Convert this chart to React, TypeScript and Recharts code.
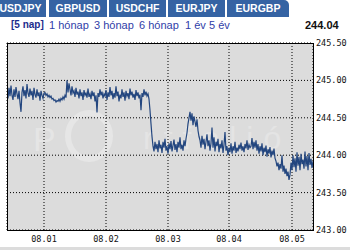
import { CartesianGrid, Line, LineChart, XAxis, YAxis } from "recharts";

// one quote per plot pixel, 5 trading days
const prices = [
  // 07.31 evening
  244.85, 244.76, 244.9, 244.79, 244.93, 244.8, 244.74, 244.88, 244.78, 244.91,
  244.82, 244.75, 244.86, 244.7, 244.58, 244.84, 244.92, 244.79, 244.87, 244.76,
  244.95, 244.83, 244.78, 244.89, 244.8, 244.86, 244.74, 244.9, 244.81, 244.77,
  244.88, 244.79, 244.84, 244.73, 244.86, 244.8, 244.76, 244.83,
  // 08.01
  244.84, 244.8, 244.82, 244.78, 244.8, 244.77, 244.79, 244.75, 244.76, 244.73,
  244.74, 244.71, 244.73, 244.72, 244.75, 244.72, 244.76, 244.74, 244.78, 244.75,
  244.8, 244.77,
  245.0, 244.84, 244.96,
  244.88, 244.8, 244.92, 244.83, 244.86, 244.78, 244.9, 244.81, 244.85, 244.76,
  244.88, 244.79, 244.84, 244.74, 244.87, 244.8, 244.83, 244.77, 244.89, 244.78,
  244.82, 244.75, 244.86, 244.79, 244.84, 244.72, 244.8, 244.57, 244.83, 244.78,
  244.88, 244.8, 244.85, 244.76, 244.82, 244.79, 244.87, 244.74, 244.84, 244.78,
  244.91, 244.8, 244.86, 244.75, 244.83, 244.77, 244.92, 244.79, 244.85, 244.72,
  244.81, 244.76, 244.88, 244.78, 244.84, 244.73, 244.86, 244.79, 244.83, 244.75,
  244.89, 244.8, 244.85, 244.77, 244.82, 244.74, 244.87, 244.79, 244.84, 244.76,
  244.81, 244.6, 244.83, 244.78, 244.88, 244.8, 244.85, 244.79, 244.82,
  // drop on 08.02 evening
  244.75, 244.6, 244.42, 244.25, 244.12, 244.05, 244.18, 244.08,
  244.15, 244.04, 244.2, 244.09, 244.14, 244.03, 244.18, 244.1, 244.22, 244.06,
  244.12, 244.02, 244.16, 244.08, 244.19, 244.05, 244.13, 244.21, 244.07, 244.15,
  244.04, 244.18, 244.1, 244.24, 244.08, 244.14, 244.06, 244.2, 244.12, 244.22,
  244.3, 244.42, 244.5, 244.58, 244.46, 244.56, 244.4, 244.52, 244.45, 244.38,
  244.48, 244.33, 244.25,
  244.2, 244.1, 244.26, 244.14, 244.22, 244.08, 244.18, 244.28, 244.12, 244.2,
  244.06, 244.16, 244.37, 244.1, 244.24, 244.05, 244.18, 244.12, 244.22, 244.04,
  244.15, 244.09, 244.2, 244.03, 244.14, 244.31, 244.06, 244.12, 244.0, 244.1,
  244.04, 244.16, 244.02, 244.12, 244.06, 244.18, 244.03, 244.1, 244.05, 244.14,
  244.08, 244.17, 244.06, 244.12, 244.04, 244.15, 244.09, 244.2, 244.07, 244.14,
  244.1,
  244.12, 244.23, 244.08, 244.18, 244.1, 244.2, 244.06, 244.15, 244.02, 244.12,
  244.05, 244.16, 244.0, 244.1, 244.04, 244.13, 243.98, 244.08, 244.02, 244.11,
  243.97, 244.06, 244.0, 244.09, 243.96,
  243.92, 243.85, 243.9, 243.8, 243.88, 243.82, 244.0, 243.78, 243.86, 243.75,
  243.82, 243.72, 243.78, 243.67, 243.74,
  243.9, 243.8, 244.0, 243.84, 243.96, 243.78, 244.04, 243.86, 243.98, 243.8,
  244.02, 243.88, 243.94, 243.82, 244.05, 243.85, 243.99, 243.8, 244.03, 243.87,
  243.95, 243.83, 243.92,
];

const dayTicks = [37, 99, 161, 222, 285];
const dayLabels = ["08.01", "08.02", "08.03", "08.04", "08.05"];
const priceTicks = [243, 243.5, 244, 244.5, 245, 245.5];

const tabs = ["USDJPY", "GBPUSD", "USDCHF", "EURJPY", "EURGBP"];
const periods = ["1 hónap", "3 hónap", "6 hónap", "1 év", "5 év"];
const lastPrice = "244.04";

const data = prices.map((v, i) => ({ i, v }));

const mono = "'DejaVu Sans Mono', monospace";
const sans = "'Liberation Sans', Arial, sans-serif";
const tabLefts = [-5, 49, 109, 168, 227];
const tabWidths = [51, 58, 57, 57, 62];
const periodLefts = [49, 94, 139, 185, 209];

export default function App() {
  return (
    <div
      style={{
        position: "fixed",
        left: 0,
        top: 0,
        width: 350,
        height: 250,
        background: "#fff",
        overflow: "hidden",
        fontFamily: sans,
      }}
    >
      {tabs.map((t, k) => (
        <div
          key={t}
          style={{
            position: "absolute",
            left: tabLefts[k],
            top: 0,
            width: tabWidths[k],
            height: 17,
            background: "#3563a3",
            color: "#fff",
            fontWeight: 700,
            fontSize: 10.5,
            lineHeight: "17px",
            textAlign: "center",
            borderTopRightRadius: k === 4 ? 5 : 0,
          }}
        >
          {t}
        </div>
      ))}

      <div style={{ position: "absolute", left: 11, top: 18, fontSize: 10, lineHeight: "14px", fontWeight: 700, color: "#1c2c8c" }}>
        [5 nap]
      </div>
      {periods.map((p, k) => (
        <div key={p} style={{ position: "absolute", left: periodLefts[k], top: 18, fontSize: 11, lineHeight: "14px", color: "#3040a8" }}>
          {p}
        </div>
      ))}
      <div style={{ position: "absolute", left: 305, top: 18, fontSize: 11, lineHeight: "14px", fontWeight: 700, color: "#111" }}>
        {lastPrice}
      </div>

      {/* plot background + faint watermark, clipped to the plot */}
      <div
        style={{
          position: "absolute",
          left: 7,
          top: 43,
          width: 306,
          height: 187,
          background: "#dcdcdc",
          overflow: "hidden",
        }}
      >
        <div style={{ position: "absolute", left: 26, top: 77, fontSize: 34, color: "#e5e5e5" }}>P</div>
        <div
          style={{
            position: "absolute",
            left: 58,
            top: 67,
            width: 36,
            height: 40,
            borderRadius: "50%",
            border: "6px solid #e6e6e6",
          }}
        />
        <div style={{ position: "absolute", left: 136, top: 77, fontSize: 32, color: "#e4e4e4", letterSpacing: 10 }}>
          rtfolió
        </div>
      </div>

      <div style={{ position: "absolute", left: 0, top: 0 }}>
        <LineChart width={350} height={250} data={data} margin={{ top: 43, left: 7, right: 0, bottom: 0 }}>
          <CartesianGrid stroke="#000" strokeDasharray="1 2" />
          <XAxis
            type="number"
            dataKey="i"
            domain={[0, prices.length - 1]}
            ticks={dayTicks}
            tickFormatter={(v: number) => dayLabels[dayTicks.indexOf(v)]}
            axisLine={false}
            tickLine={false}
            tickSize={0}
            height={20}
            tickMargin={6}
            tick={{ fill: "#111", fontSize: 8.5, fontFamily: mono }}
            allowDataOverflow
          />
          <YAxis
            orientation="right"
            domain={[243, 245.5]}
            ticks={priceTicks}
            tickFormatter={(v: number) => v.toFixed(2)}
            axisLine={false}
            tickLine={false}
            tickSize={0}
            width={37}
            tickMargin={3}
            tick={{ fill: "#111", fontSize: 8.5, fontFamily: mono }}
            allowDataOverflow
          />
          <Line type="linear" dataKey="v" stroke="#23467f" strokeWidth={1.2} dot={false} isAnimationActive={false} />
        </LineChart>
      </div>

      <div
        style={{
          position: "absolute",
          left: 7,
          top: 43,
          width: 307,
          height: 188,
          border: "1px solid #000",
          boxSizing: "border-box",
          pointerEvents: "none",
        }}
      />
      <div style={{ position: "absolute", left: 0, top: 247, width: 350, height: 3, background: "#dcdcdc" }} />
    </div>
  );
}
